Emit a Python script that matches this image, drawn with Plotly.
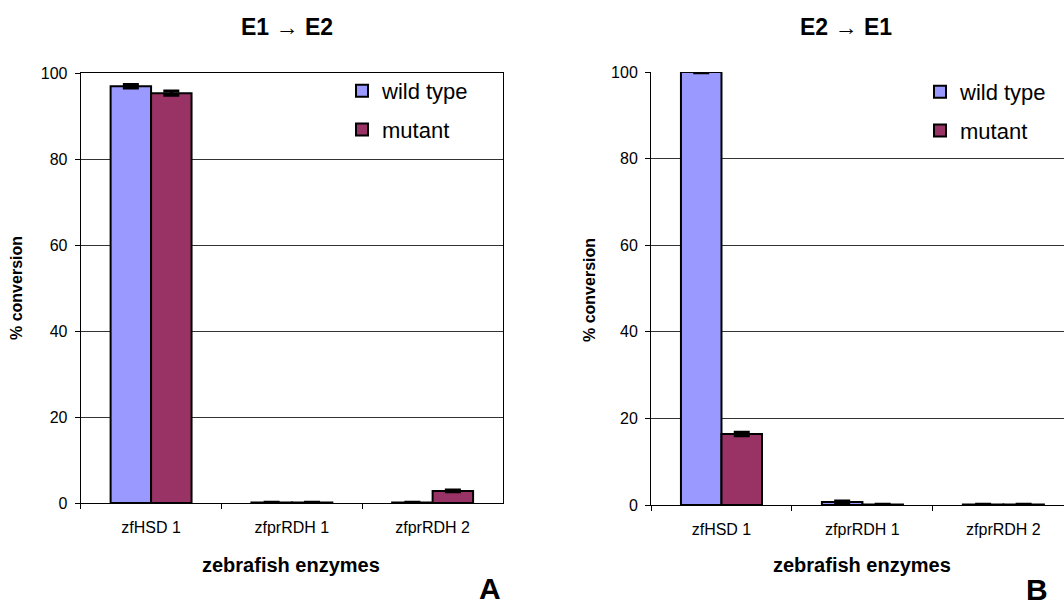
import plotly.graph_objects as go

# Enzymes tested and % conversion (mean ± error) for each substrate direction
enzymes = ["zfHSD 1", "zfprRDH 1", "zfprRDH 2"]

e1_e2_wild = [96.9, 0.1, 0.1]
e1_e2_wild_err = [0.4, 0.05, 0.05]
e1_e2_mutant = [95.3, 0.1, 2.8]
e1_e2_mutant_err = [0.5, 0.05, 0.2]

e2_e1_wild = [100.0, 0.7, 0.1]
e2_e1_wild_err = [0.2, 0.25, 0.05]
e2_e1_mutant = [16.4, 0.1, 0.1]
e2_e1_mutant_err = [0.4, 0.05, 0.05]

y_ticks = [0, 20, 40, 60, 80, 100]

WILD_COLOR = "#9999FF"
MUTANT_COLOR = "#993366"
FONT = "Arial, Liberation Sans, sans-serif"

W, H = 1064, 608


def px_x(p):
    return p / W


def px_y(p):
    return 1 - p / H


def bar(name, x, y, err, color, xa, ya, legend):
    return go.Bar(
        name=name, x=x, y=y, xaxis=xa, yaxis=ya, legend=legend,
        marker=dict(color=color, line=dict(color="black", width=2)),
        error_y=dict(type="data", array=err, visible=True,
                     color="black", thickness=3, width=8),
        legendgroup=name + legend,
    )


fig = go.Figure()
fig.add_trace(bar("wild type", enzymes, e1_e2_wild, e1_e2_wild_err, WILD_COLOR, "x", "y", "legend"))
fig.add_trace(bar("mutant", enzymes, e1_e2_mutant, e1_e2_mutant_err, MUTANT_COLOR, "x", "y", "legend"))
fig.add_trace(bar("wild type", enzymes, e2_e1_wild, e2_e1_wild_err, WILD_COLOR, "x2", "y2", "legend2"))
fig.add_trace(bar("mutant", enzymes, e2_e1_mutant, e2_e1_mutant_err, MUTANT_COLOR, "x2", "y2", "legend2"))

xaxis_common = dict(
    type="category", showline=True, linecolor="black", linewidth=1,
    ticks="outside", ticklen=5, tickcolor="black", tickson="boundaries",
    tickfont=dict(family=FONT, size=16, color="black"), ticklabelstandoff=10,
    showgrid=False, zeroline=False, fixedrange=True, automargin=False,
)
yaxis_common = dict(
    range=[0, 100], tickvals=y_ticks, showline=True, linecolor="black", linewidth=1,
    ticks="outside", ticklen=5, tickcolor="black",
    tickfont=dict(family=FONT, size=16, color="black"), ticklabelstandoff=4,
    showgrid=True, gridcolor="#333333", gridwidth=1, zeroline=False, automargin=False,
)

legend_common = dict(
    font=dict(family=FONT, size=22, color="black"),
    bgcolor="rgba(0,0,0,0)", traceorder="grouped", tracegroupgap=7,
    xanchor="left", yanchor="top",
)

fig.update_layout(
    width=W, height=H,
    margin=dict(l=0, r=0, t=0, b=0, autoexpand=False),
    paper_bgcolor="white", plot_bgcolor="white",
    barmode="group", bargap=0.425, bargroupgap=0,
    showlegend=True,
    xaxis=dict(domain=[px_x(80.7), px_x(503)], anchor="y", mirror=True, range=[-0.5, 2.5], **xaxis_common),
    yaxis=dict(domain=[px_y(503), px_y(73)], anchor="x", mirror=True, **yaxis_common),
    xaxis2=dict(domain=[px_x(651), 1.0], anchor="y2", range=[-0.5, 2.43], **xaxis_common),
    yaxis2=dict(domain=[px_y(505), px_y(72)], anchor="x2", **yaxis_common),
    legend=dict(x=px_x(342), y=px_y(70), **legend_common),
    legend2=dict(x=px_x(920), y=px_y(71), **legend_common),
)


def label(text, x, y, size, angle=0):
    fig.add_annotation(text=text, x=px_x(x), y=px_y(y), xref="paper", yref="paper",
                       xanchor="center", yanchor="middle",
                       showarrow=False, textangle=angle,
                       font=dict(family=FONT, size=size, color="black"))


label("<b>E1 → E2</b>", 287, 27, 23)
label("<b>E2 → E1</b>", 846, 27, 23)
label("<b>% conversion</b>", 17, 288, 16, -90)
label("<b>% conversion</b>", 589, 290, 16, -90)
label("<b>zebrafish enzymes</b>", 291, 565, 20)
label("<b>zebrafish enzymes</b>", 862, 565, 20)
label("<b>A</b>", 490, 588, 30)
label("<b>B</b>", 1037, 589, 30)

fig.write_html("out.html")
